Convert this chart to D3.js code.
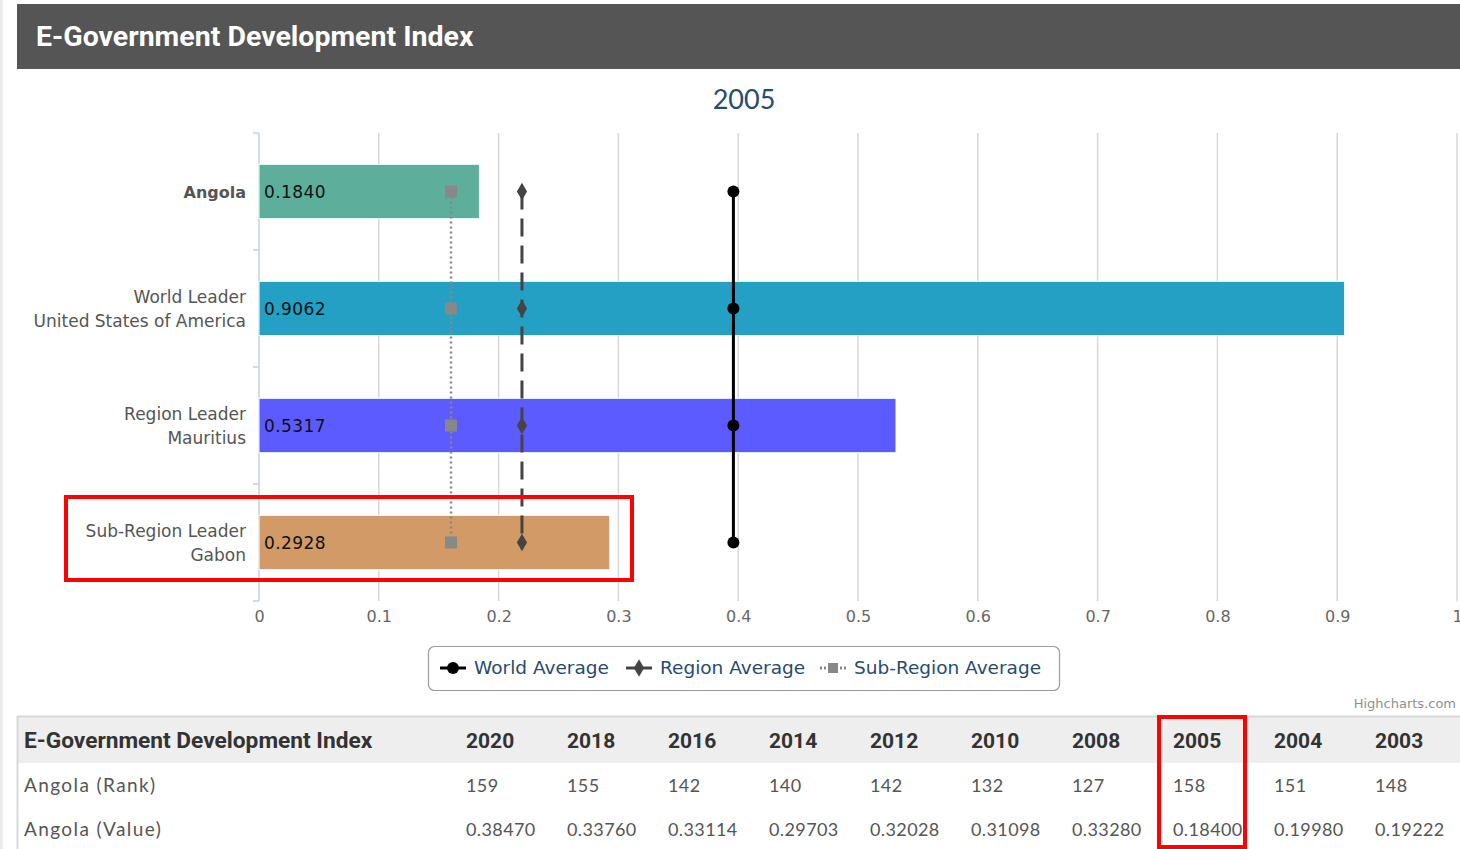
<!DOCTYPE html>
<html>
<head>
<meta charset="utf-8">
<script src="https://cdn.jsdelivr.net/npm/d3@7"></script>
<style>
body { margin: 0; background: #fff; }
svg { display: block; font-family: 'DejaVu Sans', sans-serif; }
</style>
</head>
<body>
<script>
// chart values
const roles = ['', 'World Leader', 'Region Leader', 'Sub-Region Leader'];
const countries = ['Angola', 'United States of America', 'Mauritius', 'Gabon'];
const barValues = [0.1840, 0.9062, 0.5317, 0.2928];
const barColors = ['#5daf9c', '#24a0c4', '#5b5bff', '#d29a66'];
const worldAvg = 0.396;
const regionAvg = 0.2195;
const subRegionAvg = 0.1603;
const xTicks = [0, 0.1, 0.2, 0.3, 0.4, 0.5, 0.6, 0.7, 0.8, 0.9, 1];

// table values
const years = ['2020', '2018', '2016', '2014', '2012', '2010', '2008', '2005', '2004', '2003'];
const ranks = ['159', '155', '142', '140', '142', '132', '127', '158', '151', '148'];
const values = ['0.38470', '0.33760', '0.33114', '0.29703', '0.32028', '0.31098', '0.33280', '0.18400', '0.19980', '0.19222'];

const w = 1460, h = 849;
const svg = d3.select('body').append('svg').attr('width', w).attr('height', h);

// left page edge
svg.append('rect').attr('x', 0).attr('y', 0).attr('width', 3).attr('height', h).attr('fill', '#ececec');

// header bar
svg.append('rect').attr('x', 17).attr('y', 4).attr('width', w - 17).attr('height', 65).attr('fill', '#555555');
svg.append('text').attr('x', 36).attr('y', 46)
  .text('E-Government Development Index')
  .style('font-family', "'Liberation Sans Narrow', 'Roboto', sans-serif")
  .style('font-weight', 'bold').style('font-size', '28.5px').attr('fill', '#fff');

// chart title
svg.append('text').attr('x', 744).attr('y', 109).attr('text-anchor', 'middle')
  .text('2005').style('font-family', "'Lato', sans-serif").style('font-size', '27px').attr('fill', '#274b6d');

const x = d3.scaleLinear().domain([0, 1]).range([259, 1457]);
const y = d3.scaleBand().domain(countries).range([133, 601]).paddingInner(0.535).paddingOuter(0.2675);
const yFull = d3.scaleBand().domain(countries).range([133, 601]);

// gridlines
svg.append('g').selectAll('line').data(xTicks.slice(1)).enter().append('line')
  .attr('x1', d => x(d)).attr('x2', d => x(d)).attr('y1', 133).attr('y2', 601)
  .attr('stroke', '#d8d8d8').attr('stroke-width', 1.5);

// x axis labels
const bottomAxis = d3.axisBottom(x).tickValues(xTicks).tickFormat(d3.format('')).tickSize(0).tickPadding(10);
const xg = svg.append('g').attr('transform', 'translate(0,601)').call(bottomAxis);
xg.select('.domain').remove();
xg.selectAll('text').style('font-size', '16px').style('font-family', "'DejaVu Sans', sans-serif").attr('fill', '#666');

// y axis line and ticks
svg.append('line').attr('x1', 259).attr('x2', 259).attr('y1', 133).attr('y2', 601).attr('stroke', '#c0d0e0').attr('stroke-width', 1.5);
const bounds = countries.map(c => yFull(c)).concat([601]);
svg.append('g').selectAll('line').data(bounds).enter().append('line')
  .attr('x1', 253).attr('x2', 259).attr('y1', d => d).attr('y2', d => d)
  .attr('stroke', '#c0d0e0').attr('stroke-width', 1.5);

// bars
svg.append('g').selectAll('rect').data(countries).enter().append('rect')
  .attr('x', x(0)).attr('y', d => y(d))
  .attr('width', (d, i) => x(barValues[i]) - x(0)).attr('height', y.bandwidth())
  .attr('fill', (d, i) => barColors[i]).attr('stroke', '#fff').attr('stroke-width', 1);

// data labels
svg.append('g').selectAll('text').data(countries).enter().append('text')
  .attr('x', x(0) + 5).attr('y', d => y(d) + y.bandwidth() / 2 + 6)
  .text((d, i) => barValues[i].toFixed(4))
  .style('font-size', '17px').style('letter-spacing', '0.4px').attr('fill', '#111');

// category labels
const cat = svg.append('g').selectAll('text').data(countries).enter().append('text')
  .attr('text-anchor', 'end').attr('x', 246)
  .attr('fill', '#555').style('font-size', '17px');
cat.each(function (d, i) {
  const t = d3.select(this);
  const cy = yFull(d) + yFull.bandwidth() / 2;
  if (roles[i] === '') {
    t.attr('y', cy + 6).style('font-weight', 'bold').style('font-size', '16px').text(d);
  } else {
    t.append('tspan').attr('x', 246).attr('y', cy - 6).text(roles[i]);
    t.append('tspan').attr('x', 246).attr('y', cy + 18).text(d);
  }
});

// average series
const cy = d => yFull(d) + yFull.bandwidth() / 2;
const avgLine = d3.line().x(d => d[0]).y(d => d[1]);
function avgPts(v) { return countries.map(c => [x(v), cy(c)]); }

svg.append('path').attr('d', avgLine(avgPts(subRegionAvg))).attr('fill', 'none')
  .attr('stroke', '#888').attr('stroke-width', 2.5).attr('stroke-dasharray', '2,3');
svg.append('g').selectAll('rect').data(countries).enter().append('rect')
  .attr('x', x(subRegionAvg) - 6).attr('y', d => cy(d) - 6).attr('width', 12).attr('height', 12).attr('fill', '#888');

svg.append('path').attr('d', avgLine(avgPts(regionAvg))).attr('fill', 'none')
  .attr('stroke', '#444').attr('stroke-width', 3).attr('stroke-dasharray', '18,9');
svg.append('g').selectAll('path').data(countries).enter().append('path')
  .attr('d', d3.symbol().type(d3.symbolDiamond).size(90))
  .attr('transform', d => 'translate(' + x(regionAvg) + ',' + cy(d) + ')').attr('fill', '#444');

svg.append('path').attr('d', avgLine(avgPts(worldAvg))).attr('fill', 'none')
  .attr('stroke', '#000').attr('stroke-width', 3);
svg.append('g').selectAll('circle').data(countries).enter().append('circle')
  .attr('cx', x(worldAvg)).attr('cy', d => cy(d)).attr('r', 6).attr('fill', '#000');

// legend
const lg = svg.append('g');
lg.append('rect').attr('x', 428.5).attr('y', 646.5).attr('width', 631).attr('height', 44).attr('rx', 6)
  .attr('fill', '#fff').attr('stroke', '#999').attr('stroke-width', 1.2);
const legendItems = [
  { name: 'World Average', x: 440, color: '#000', dash: null, mark: 'circle' },
  { name: 'Region Average', x: 626, color: '#444', dash: null, mark: 'diamond' },
  { name: 'Sub-Region Average', x: 820, color: '#888', dash: '2,2', mark: 'square' }
];
legendItems.forEach(it => {
  lg.append('line').attr('x1', it.x).attr('x2', it.x + 26).attr('y1', 668).attr('y2', 668)
    .attr('stroke', it.color).attr('stroke-width', 3).attr('stroke-dasharray', it.dash);
  const mx = it.x + 13;
  if (it.mark === 'circle') lg.append('circle').attr('cx', mx).attr('cy', 668).attr('r', 6).attr('fill', it.color);
  else if (it.mark === 'diamond') lg.append('path').attr('d', d3.symbol().type(d3.symbolDiamond).size(90)).attr('transform', 'translate(' + mx + ',668)').attr('fill', it.color);
  else lg.append('rect').attr('x', mx - 5).attr('y', 663).attr('width', 10).attr('height', 10).attr('fill', it.color);
  lg.append('text').attr('x', it.x + 34).attr('y', 674).text(it.name).style('font-size', '18.5px').attr('fill', '#274b6d');
});

// credits
svg.append('text').attr('x', 1456).attr('y', 708).attr('text-anchor', 'end').text('Highcharts.com')
  .style('font-size', '13px').attr('fill', '#909090');

// table
const colX = d3.scaleBand().domain(years).range([466, 466 + 101 * years.length]);
svg.append('rect').attr('x', 17).attr('y', 716).attr('width', w - 17).attr('height', 47).attr('fill', '#eeeeee');
svg.append('line').attr('x1', 17).attr('x2', w).attr('y1', 716.5).attr('y2', 716.5).attr('stroke', '#d8d8d8').attr('stroke-width', 2);
svg.append('line').attr('x1', 17.5).attr('x2', 17.5).attr('y1', 716).attr('y2', h).attr('stroke', '#d8d8d8').attr('stroke-width', 2);

const headFont = "'Liberation Sans Narrow', 'Roboto', sans-serif";
svg.append('text').attr('x', 24).attr('y', 748).text('E-Government Development Index')
  .style('font-family', headFont).style('font-weight', 'bold').style('font-size', '22.7px').attr('fill', '#333');
svg.append('g').selectAll('text').data(years).enter().append('text')
  .attr('x', d => colX(d)).attr('y', 748).text(d => d)
  .style('font-family', headFont).style('font-weight', 'bold').style('font-size', '21px').attr('fill', '#333');

const rows = [{ label: 'Angola (Rank)', vals: ranks, y: 792 }, { label: 'Angola (Value)', vals: values, y: 836 }];
rows.forEach(r => {
  svg.append('text').attr('x', 24).attr('y', r.y).text(r.label)
    .style('font-family', "'Lato', sans-serif").style('font-size', '19px').style('letter-spacing', '1.4px').attr('fill', '#555');
  svg.append('g').selectAll('text').data(r.vals).enter().append('text')
    .attr('x', (d, i) => colX(years[i])).attr('y', r.y).text(d => d)
    .style('font-family', "'Lato', sans-serif").style('font-size', '18px').style('letter-spacing', '0.4px').attr('fill', '#555');
});

// red highlights
svg.append('rect').attr('x', 66).attr('y', 497).attr('width', 566).attr('height', 83)
  .attr('fill', 'none').attr('stroke', '#ff0000').attr('stroke-width', 4);
svg.append('rect').attr('x', 1159).attr('y', 717).attr('width', 86).attr('height', 130)
  .attr('fill', 'none').attr('stroke', '#ff0000').attr('stroke-width', 4);
</script>
</body>
</html>
